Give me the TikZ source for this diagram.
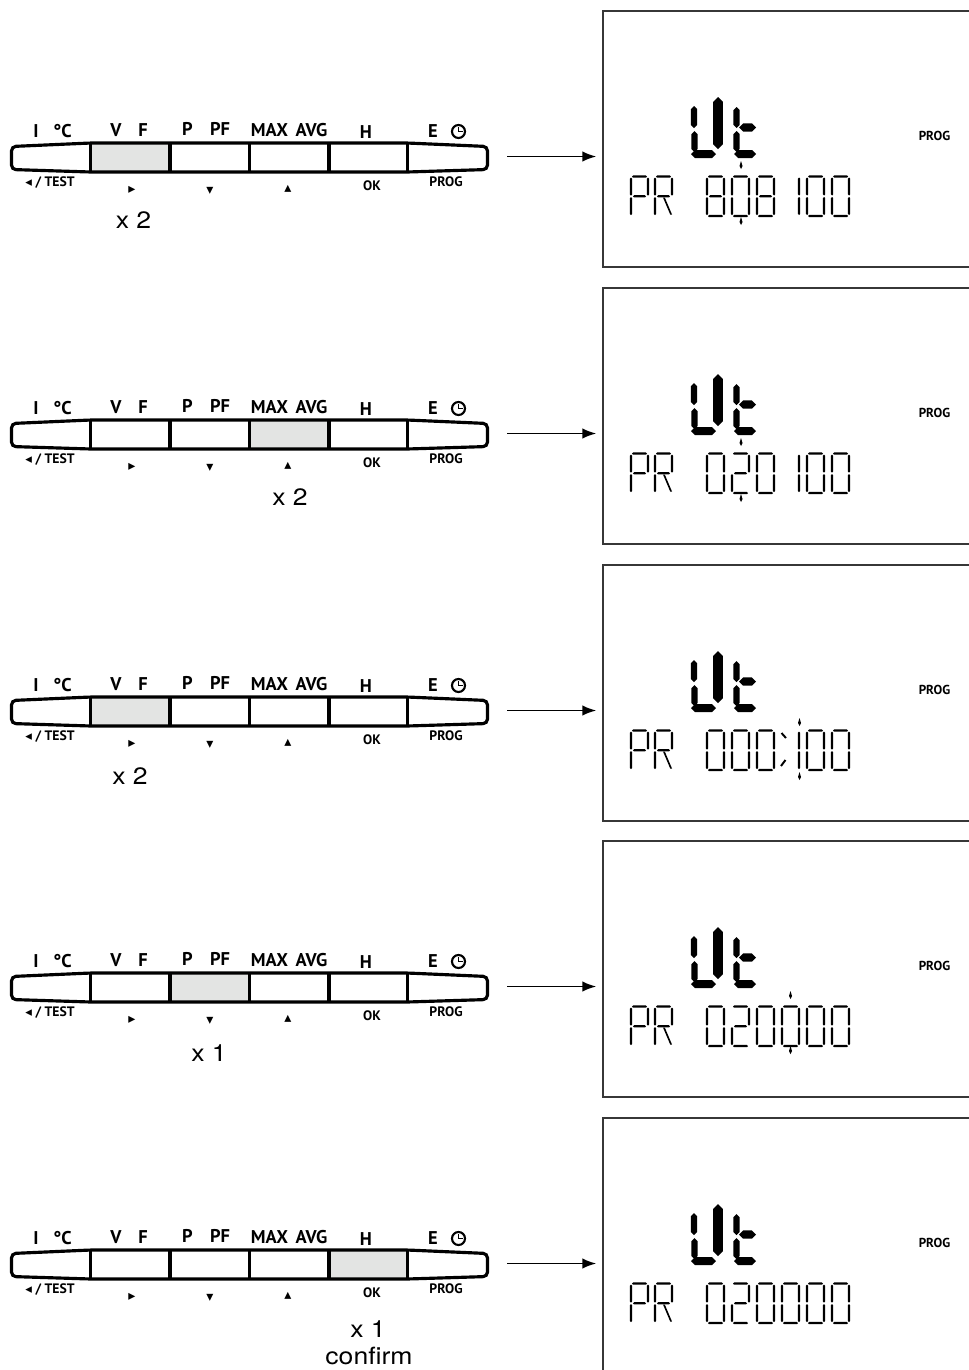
\documentclass[tikz,border=0pt]{standalone}
\usepackage{fontspec}
\setmainfont{TeX Gyre Heros}
\newfontfamily\keyfont{PT Sans}
\newfontfamily\symfont{DejaVu Sans}
\newfontfamily\countfont[FakeStretch=1.12]{TeX Gyre Heros}
\usepackage{tikz}
\usetikzlibrary{%
  arrows.meta, calc, positioning
}
\usepackage{xcolor}
\definecolor{keygray}{RGB}{227,228,227}
\definecolor{lcdframe}{RGB}{55,55,55}

% lcd bars: half width, from, to, at
\newcommand{\lcdh}[4]{%
  \fill (#2,#4) -- (#2+#1,#4-#1) -- (#3-#1,#4-#1) -- (#3,#4)
    -- (#3-#1,#4+#1) -- (#2+#1,#4+#1) -- cycle;}
\newcommand{\lcdv}[4]{%
  \fill (#2,#3) -- (#2+#1,#3+#1) -- (#2+#1,#4-#1) -- (#2,#4)
    -- (#2-#1,#4-#1) -- (#2-#1,#3+#1) -- cycle;}

% segments of one small digit
\newcommand{\lcdsega}{\lcdh{1.2}{1}{16}{0}}
\newcommand{\lcdsegb}{\lcdv{1.2}{17}{1}{19}}
\newcommand{\lcdsegc}{\lcdv{1.2}{17}{20.5}{38.5}}
\newcommand{\lcdsegd}{\lcdh{1.2}{1}{16}{39.5}}
\newcommand{\lcdsege}{\lcdv{1.2}{0}{20.5}{38.5}}
\newcommand{\lcdsegf}{\lcdv{1.2}{0}{1}{19}}
\newcommand{\lcdsegg}{\lcdh{1.2}{2}{15}{19.75}}
\newcommand{\lcdsegk}{\fill (8,21) -- (9.8,21) -- (17,38) -- (15.2,38) -- cycle;}

\newcommand{\dzero}{a,b,c,d,e,f}
\newcommand{\done}{b,c}
\newcommand{\dtwo}{a,b,g,e,d}
\newcommand{\deight}{a,b,c,d,e,f,g}
\newcommand{\dP}{a,b,f,e,g}
\newcommand{\dR}{a,b,f,e,g,k}

\newcommand{\lcdchar}[3]{%
  \begin{scope}[shift={(#1,#2)}]
    \edef\lcdlist{#3}
    \foreach \s in \lcdlist {\csname lcdseg\s\endcsname}
  \end{scope}}

\newcommand{\lcdline}[6]{%
  \lcdchar{707}{176.5}{#1}
  \lcdchar{732}{176.5}{#2}
  \lcdchar{757}{176.5}{#3}
  \lcdchar{782}{176.5}{#4}
  \lcdchar{807}{176.5}{#5}
  \lcdchar{832}{176.5}{#6}}

\newcommand{\lcdmark}[2]{%
  \fill (#1,#2-4) -- (#1+1.5,#2+1) -- (#1,#2+4) -- (#1-1.5,#2+1) -- cycle;}

% the key strip, #1 row, #2 and #3 the pressed key
\newcommand{\keypad}[3]{%
  \fill[keygray] (#2,143) rectangle (#3,172);
  \draw[keyline, rounded corners=2.5pt] (90.7,143) -- (407.3,143) -- (487.5,146.5)
    -- (487.5,169.5) -- (407.3,172) -- (90.7,172) -- (11.5,169.5)
    -- (11.5,146.5) -- cycle;
  \draw[keyline] (90.7,143) -- (90.7,172) (170,143) -- (170,172)
    (249.3,143) -- (249.3,172) (329,143) -- (329,172)
    (407.3,143) -- (407.3,172);
  % over the keys
  \node[keytop] (kI#1) at (36,137.3) {I};
  \node[keytop] (kC#1) at (62.5,137.3) {°C};
  \node[keytop] (kV#1) at (116,136.7) {V};
  \node[keytop] (kF#1) at (143,136.7) {F};
  \node[keytop] (kP#1) at (187.5,135.3) {P};
  \node[keytop] (kPF#1) at (220,135.3) {PF};
  \node[keytop] (kMAX#1) at (269.5,136) {MAX};
  \node[keytop] (kAVG#1) at (311.5,136) {AVG};
  \node[keytop] (kH#1) at (366,138) {H};
  \node[keytop] (kE#1) at (433,137) {E};
  \node[clock] (kclk#1) at (458.5,131.5) {};
  \draw[line width=1pt] (kclk#1.center) -- ++(0,-4.5) (kclk#1.center) -- ++(4.5,0);
  % under the keys
  \node[keybot] (kTEST#1) at (50,186) {{\symfont\fontsize{7.5}{8}\selectfont ◂} / TEST};
  \node[keysym] (kright#1) at (132,190) {▸};
  \node[keysym] (kdown#1) at (210,190.5) {▾};
  \node[keysym] (kup#1) at (288,189) {▴};
  \node[keybot] (kOK#1) at (372,190) {OK};
  \node[keybot] (kPROG#1) at (446,186) {PROG};
  \coordinate (kp#1) at (507,156.5);}

% the display, #1 row
\newcommand{\lcdpanel}[1]{%
  \node[lcd] (disp#1) at (793,139) {};
  \node[lcdtag] (dprog#1) at (934.5,136) {PROG};
  \lcdv{3.2}{694}{106}{128}
  \lcdv{3.2}{694.5}{131}{152}
  \lcdh{4}{691}{716}{154}
  \lcdv{4.8}{718}{97}{149}
  \lcdv{3.2}{736.5}{107}{128}
  \lcdv{3.2}{736.5}{131}{152}
  \lcdh{4.2}{739}{756}{127.5}
  \lcdh{4}{734}{756}{154}
  \lcdchar{631}{176.5}{\dP}
  \lcdchar{655}{176.5}{\dR}}

\begin{document}
\begin{tikzpicture}[%
    x=0.02cm, y=-0.02cm,
    every node/.style={inner sep=0pt},
    keyline/.style={black, line width=1.8pt},
    keytop/.style={anchor=base, font=\keyfont\bfseries\fontsize{10.5}{11}\selectfont},
    keybot/.style={anchor=base, font=\keyfont\bfseries\fontsize{7.8}{8}\selectfont},
    keysym/.style={font=\symfont\fontsize{8}{8}\selectfont},
    clock/.style={circle, draw, line width=1.2pt, minimum size=7.4pt},
    lcd/.style={draw=lcdframe, line width=0.85pt, minimum width=7.6cm,
      minimum height=5.12cm},
    lcdtag/.style={font=\keyfont\bfseries\fontsize{7.4}{8}\selectfont},
    count/.style={anchor=base, font=\countfont\fontsize{13.5}{16}\selectfont},
    arr/.style={-{Latex[length=8pt,width=6pt]}, line width=1.05pt,
      shorten >=3.4pt}
  ]

  \fill[white] (0,0) rectangle (968,1370);
  \useasboundingbox (0,0) rectangle (968,1370);

  % first step
  \begin{scope}
    \keypad{1}{90.7}{170}
    \lcdpanel{1}
    \lcdline{\deight}{\dzero}{\deight}{\done}{\dzero}{\dzero}
    \lcdmark{741}{165}
    \lcdmark{741}{221}
    \node[count] (cnt1) at (133.5,228) {x 2};
    \draw[arr] (kp1) -- (kp1 -| disp1.west);
  \end{scope}

  % second step
  \begin{scope}[shift={(0,277)}]
    \keypad{2}{249.3}{329}
    \lcdpanel{2}
    \lcdline{\dzero}{\dtwo}{\dzero}{\done}{\dzero}{\dzero}
    \lcdmark{741}{165}
    \lcdmark{741}{221}
    \node[count] (cnt2) at (290,228) {x 2};
    \draw[arr] (kp2) -- (kp2 -| disp2.west);
  \end{scope}

  % third step
  \begin{scope}[shift={(0,554)}]
    \keypad{3}{90.7}{170}
    \lcdpanel{3}
    \lcdline{\dzero}{\dzero}{\dzero}{\done}{\dzero}{\dzero}
    \draw[line width=1.1pt] (781.5,179) -- (786,184) (785.5,206) -- (781,212);
    \lcdmark{799.5}{168}
    \lcdmark{799.5}{222}
    \node[count] (cnt3) at (130,230) {x 2};
    \draw[arr] (kp3) -- (kp3 -| disp3.west);
  \end{scope}

  % fourth step
  \begin{scope}[shift={(0,830)}]
    \keypad{4}{170}{249.3}
    \lcdpanel{4}
    \lcdline{\dzero}{\dtwo}{\dzero}{\dzero}{\dzero}{\dzero}
    \lcdmark{790.5}{165}
    \lcdmark{790.5}{220}
    \node[count] (cnt4) at (209,231) {x 1};
    \draw[arr] (kp4) -- (kp4 -| disp4.west);
  \end{scope}

  % fifth step
  \begin{scope}[shift={(0,1107)}]
    \keypad{5}{329}{407.3}
    \lcdpanel{5}
    \lcdline{\dzero}{\dtwo}{\dzero}{\dzero}{\dzero}{\dzero}
    \node[count] (cnt5) at (368,230) {x 1};
    \node[count] (conf5) at (369,257.5) {confirm};
    \draw[arr] (kp5) -- (kp5 -| disp5.west);
  \end{scope}

\end{tikzpicture}
\end{document}
